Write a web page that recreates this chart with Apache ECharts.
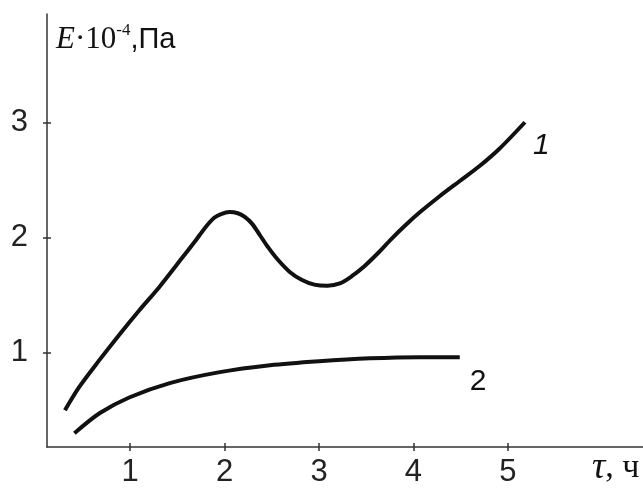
<!DOCTYPE html>
<html>
<head>
<meta charset="utf-8">
<style>
  html, body { margin: 0; padding: 0; background: #fff; }
  #chart { width: 643px; height: 490px; }
</style>
<script src="https://cdn.jsdelivr.net/npm/echarts@6.0.0/dist/echarts.min.js"></script>
</head>
<body>
<div id="chart"></div>
<script>
// tick labels
const tauTicks = [1, 2, 3, 4, 5];
const eTicks = [1, 2, 3];

// curve 1
const curve1Tau = [0.31, 0.46, 0.67, 0.89, 1.10, 1.31, 1.52, 1.70, 1.79, 1.89, 1.97, 2.05, 2.14, 2.21, 2.29, 2.37, 2.46, 2.56, 2.69, 2.82, 2.95, 3.09, 3.22, 3.35, 3.48, 3.62, 3.77, 3.92, 4.07, 4.28, 4.49, 4.70, 4.91, 5.18];
const curve1E = [0.50, 0.70, 0.93, 1.16, 1.37, 1.57, 1.79, 1.98, 2.08, 2.17, 2.205, 2.22, 2.21, 2.18, 2.12, 2.025, 1.915, 1.81, 1.70, 1.63, 1.59, 1.58, 1.60, 1.665, 1.75, 1.86, 1.99, 2.11, 2.22, 2.36, 2.49, 2.62, 2.77, 3.00];

// curve 2
const curve2Tau = [0.41, 0.68, 0.99, 1.42, 1.95, 2.48, 3.0, 3.54, 4.07, 4.49];
const curve2E = [0.30, 0.475, 0.61, 0.735, 0.83, 0.89, 0.925, 0.95, 0.96, 0.96];

const curveNames = ['1', '2'];

function pairs(xs, ys) {
  return xs.map((x, i) => [x, ys[i]]);
}

const chart = echarts.init(document.getElementById('chart'));

const axisColor = '#333';
const labelFont = 'Liberation Sans, Arial, sans-serif';

function xAxisBase(extra) {
  return Object.assign({
    type: 'value',
    min: 0.12,
    max: 6.43,
    position: 'bottom',
    splitLine: { show: false }
  }, extra);
}

function yAxisBase(extra) {
  return Object.assign({
    type: 'value',
    min: 0.18,
    max: 3.94,
    position: 'left',
    splitLine: { show: false }
  }, extra);
}

const option = {
  animation: false,
  backgroundColor: '#fff',
  grid: { left: 47, top: 14, right: 0, bottom: 43, containLabel: false },
  xAxis: [
    xAxisBase({
      axisLine: { show: true, onZero: false, lineStyle: { color: axisColor, width: 1.5 } },
      axisTick: { show: true, inside: false, length: 4, customValues: tauTicks, lineStyle: { color: axisColor, width: 1.5 } },
      axisLabel: { customValues: tauTicks, margin: 10, fontSize: 31, color: '#222', fontFamily: labelFont }
    }),
    xAxisBase({
      axisLine: { show: false },
      axisTick: { show: true, inside: true, length: 4, customValues: tauTicks, lineStyle: { color: axisColor, width: 1.5 } },
      axisLabel: { show: false }
    })
  ],
  yAxis: [
    yAxisBase({
      axisLine: { show: true, onZero: false, lineStyle: { color: axisColor, width: 1.5 } },
      axisTick: { show: true, inside: false, length: 4, customValues: eTicks, lineStyle: { color: axisColor, width: 1.5 } },
      axisLabel: { customValues: eTicks, margin: 19, fontSize: 31, color: '#222', fontFamily: labelFont }
    }),
    yAxisBase({
      axisLine: { show: false },
      axisTick: { show: true, inside: true, length: 4, customValues: eTicks, lineStyle: { color: axisColor, width: 1.5 } },
      axisLabel: { show: false }
    })
  ],
  graphic: [
    {
      type: 'text',
      left: 56,
      top: 22,
      style: {
        text: '{e|E}{n|·10}{s|-4}{c|,Па}',
        rich: {
          e: { fontFamily: 'Liberation Serif', fontStyle: 'italic', fontSize: 31, fill: '#111' },
          n: { fontFamily: 'Liberation Serif', fontSize: 31, fill: '#111' },
          s: { fontFamily: 'Liberation Serif', fontSize: 17, fill: '#111', padding: [0, 0, 18, 0] },
          c: { fontFamily: labelFont, fontSize: 29, fill: '#111' }
        }
      }
    },
    {
      type: 'text',
      left: 592,
      top: 450,
      style: {
        text: '{t|τ}{c|, ч}',
        rich: {
          t: { fontFamily: 'Liberation Serif', fontStyle: 'italic', fontSize: 37, fill: '#111' },
          c: { fontFamily: 'Liberation Serif', fontSize: 34, fill: '#111' }
        }
      }
    }
  ],
  series: [
    {
      name: curveNames[0],
      type: 'line',
      smooth: 0.3,
      showSymbol: false,
      data: pairs(curve1Tau, curve1E),
      lineStyle: { color: '#111', width: 4 },
      endLabel: {
        show: true,
        formatter: curveNames[0],
        offset: [0, 23],
        fontSize: 30,
        fontStyle: 'italic',
        fontFamily: labelFont,
        color: '#111'
      }
    },
    {
      name: curveNames[1],
      type: 'line',
      smooth: 0.3,
      showSymbol: false,
      data: pairs(curve2Tau, curve2E),
      lineStyle: { color: '#111', width: 4 },
      endLabel: {
        show: true,
        formatter: curveNames[1],
        offset: [2, 25],
        fontSize: 30,
        fontFamily: labelFont,
        color: '#111'
      }
    }
  ]
};

chart.setOption(option);
</script>
</body>
</html>
